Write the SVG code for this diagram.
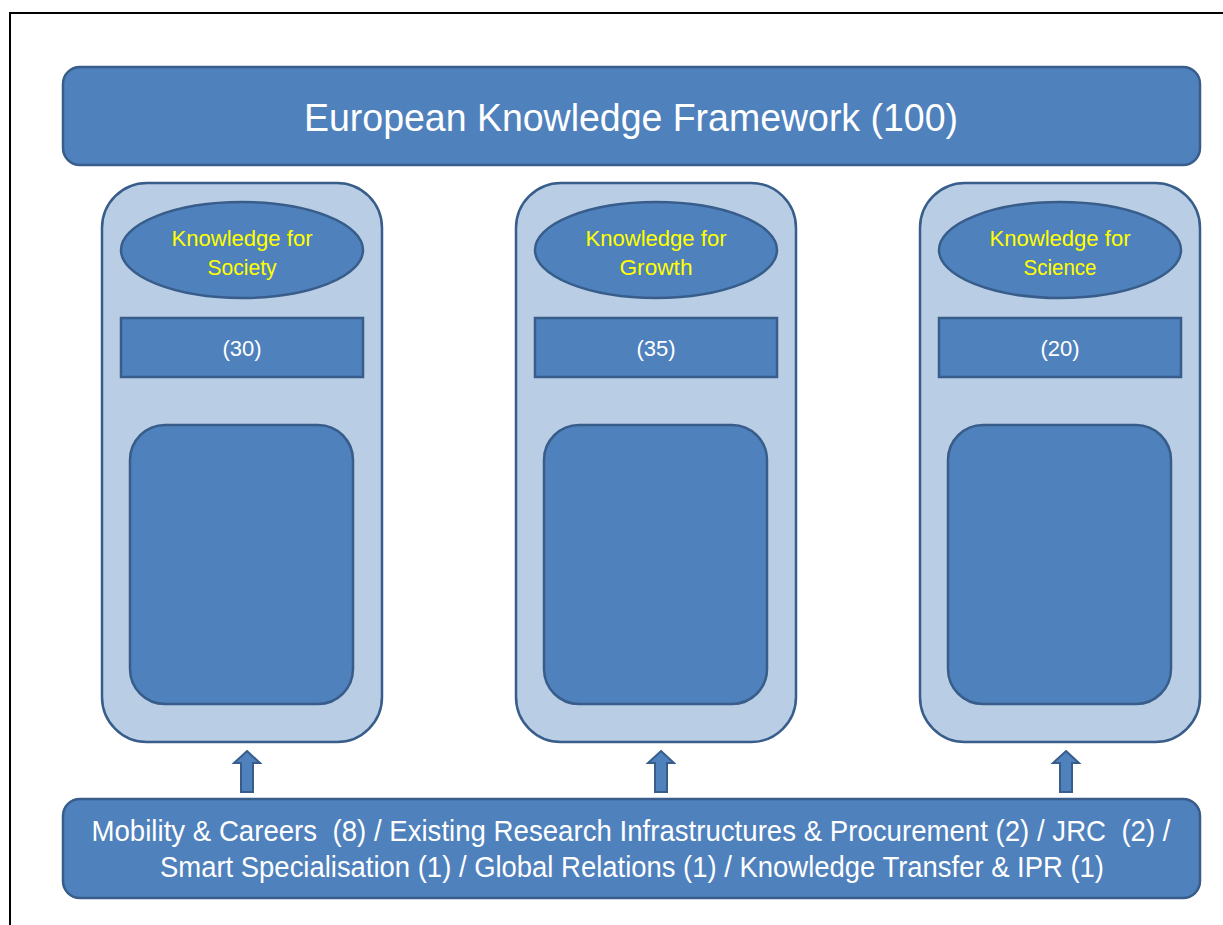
<svg xmlns="http://www.w3.org/2000/svg" width="1223" height="925" viewBox="0 0 1223 925">
<style>
.dark{fill:#4f81bd;stroke:#385d8a;stroke-width:2.5}
.light{fill:#b9cde5;stroke:#385d8a;stroke-width:2.5}
.arrow{fill:#4f81bd;stroke:#385d8a;stroke-width:2}
text{font-family:"Liberation Sans",Arial,sans-serif;text-anchor:middle;white-space:pre}
.w{fill:#ffffff}
.y{fill:#ffff00}
</style>
<rect x="10" y="13" width="1222" height="922" fill="#ffffff" stroke="#000000" stroke-width="2"/>
<g id="top">
<rect class="dark" x="63" y="67" width="1137" height="98" rx="17"/>
<text class="w" x="631" y="131" font-size="39" textLength="654" lengthAdjust="spacingAndGlyphs">European Knowledge Framework (100)</text>
</g>
<g id="col-society">
<rect class="light" x="102" y="183" width="280" height="559" rx="45"/>
<ellipse class="dark" cx="242" cy="250" rx="121" ry="48"/>
<text class="y" x="242" y="246" font-size="22" textLength="141" lengthAdjust="spacingAndGlyphs">Knowledge for</text>
<text class="y" x="242" y="275" font-size="22" textLength="69" lengthAdjust="spacingAndGlyphs">Society</text>
<rect class="dark" x="121" y="318" width="242" height="59"/>
<text class="w" x="242" y="356" font-size="22">(30)</text>
<rect class="dark" x="130" y="425" width="223" height="279" rx="35"/>
</g>
<g id="col-growth">
<rect class="light" x="516" y="183" width="280" height="559" rx="45"/>
<ellipse class="dark" cx="656" cy="250" rx="121" ry="48"/>
<text class="y" x="656" y="246" font-size="22" textLength="141" lengthAdjust="spacingAndGlyphs">Knowledge for</text>
<text class="y" x="656" y="275" font-size="22" textLength="73" lengthAdjust="spacingAndGlyphs">Growth</text>
<rect class="dark" x="535" y="318" width="242" height="59"/>
<text class="w" x="656" y="356" font-size="22">(35)</text>
<rect class="dark" x="544" y="425" width="223" height="279" rx="35"/>
</g>
<g id="col-science">
<rect class="light" x="920" y="183" width="280" height="559" rx="45"/>
<ellipse class="dark" cx="1060" cy="250" rx="121" ry="48"/>
<text class="y" x="1060" y="246" font-size="22" textLength="141" lengthAdjust="spacingAndGlyphs">Knowledge for</text>
<text class="y" x="1060" y="275" font-size="22" textLength="73" lengthAdjust="spacingAndGlyphs">Science</text>
<rect class="dark" x="939" y="318" width="242" height="59"/>
<text class="w" x="1060" y="356" font-size="22">(20)</text>
<rect class="dark" x="948" y="425" width="223" height="279" rx="35"/>
</g>
<g id="connectors">
<path class="arrow" d="M247,751 L260,763 L253,763 L253,792 L241,792 L241,763 L234,763 Z"/>
<path class="arrow" d="M661,751 L674,763 L667,763 L667,792 L655,792 L655,763 L648,763 Z"/>
<path class="arrow" d="M1066,751 L1079,763 L1072,763 L1072,792 L1060,792 L1060,763 L1053,763 Z"/>
</g>
<g id="bottom">
<rect class="dark" x="63" y="799" width="1137" height="99" rx="17"/>
<text class="w" x="631" y="841" font-size="29" textLength="1079" lengthAdjust="spacingAndGlyphs">Mobility &amp; Careers  (8) / Existing Research Infrastructures &amp; Procurement (2) / JRC  (2) /</text>
<text class="w" x="632" y="877" font-size="29" textLength="944" lengthAdjust="spacingAndGlyphs">Smart Specialisation (1) / Global Relations (1) / Knowledge Transfer &amp; IPR (1)</text>
</g>
</svg>
